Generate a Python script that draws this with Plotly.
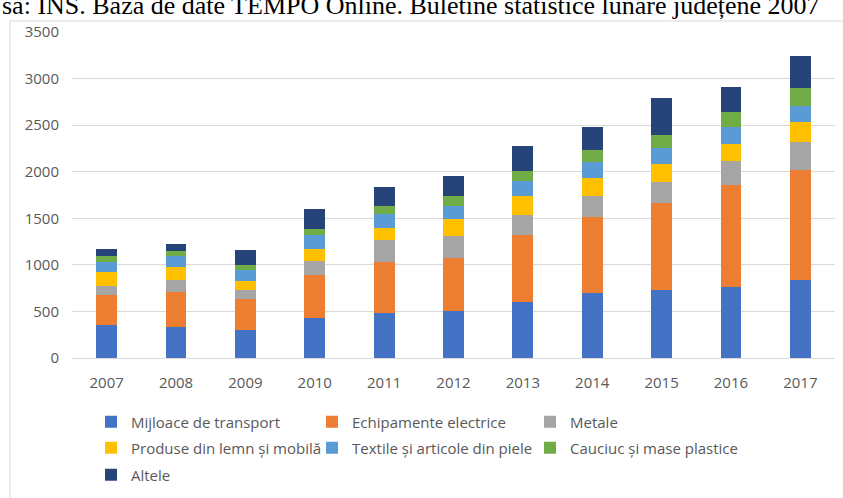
import plotly.graph_objects as go

years = ["2007", "2008", "2009", "2010", "2011", "2012", "2013", "2014", "2015", "2016", "2017"]

transport = [350, 333, 304, 429, 483, 508, 601, 697, 735, 760, 833]
electrice = [329, 375, 332, 457, 547, 571, 722, 812, 933, 1094, 1183]
metale = [97, 132, 97, 151, 232, 233, 215, 232, 226, 264, 308]
lemn = [142, 132, 96, 136, 133, 179, 196, 190, 186, 179, 208]
textile = [118, 118, 118, 143, 153, 146, 161, 172, 180, 188, 175]
cauciuc = [54, 54, 54, 71, 79, 97, 115, 125, 132, 155, 190]
altele = [83, 79, 154, 212, 208, 225, 271, 257, 398, 269, 350]

series_names = [
    "Mijloace de transport", "Echipamente electrice", "Metale",
    "Produse din lemn și mobilă", "Textile și articole din piele",
    "Cauciuc și mase plastice", "Altele",
]
series_values = [transport, electrice, metale, lemn, textile, cauciuc, altele]
colors = ["#4472C4", "#ED7D31", "#A5A5A5", "#FFC000", "#5B9BD5", "#70AD47", "#264478"]

# layout geometry (pixels)
W, H = 843, 498
ML, MR, MT, MB = 72, 8, 32, 140
PW = W - ML - MR
PH = H - MT - MB

def px_x(p):
    return (p - ML) / PW

def px_y(p):
    return (H - MB - p) / PH

# legend placement: (text-left px, row-center px)
leg_pos = [(131, 422), (352, 422), (570, 422),
           (131, 448), (352, 448), (570, 448),
           (131, 475)]

fig = go.Figure()
for i, (name, vals, col) in enumerate(zip(series_names, series_values, colors)):
    lg = "legend" if i == 0 else f"legend{i+1}"
    fig.add_trace(go.Bar(x=years, y=vals, name=name, marker_color=col,
                         marker_line_width=0, legend=lg))

font_txt = dict(family="Open Sans", size=15, color="#595959")
layout_legends = {}
for i, (tx, ty) in enumerate(leg_pos):
    key = "legend" if i == 0 else f"legend{i+1}"
    layout_legends[key] = dict(
        x=px_x(tx - 40), y=px_y(ty), xanchor="left", yanchor="middle",
        font=font_txt, bgcolor="rgba(0,0,0,0)", borderwidth=0,
        itemwidth=30, itemclick=False,
    )

fig.update_layout(
    width=W, height=H,
    margin=dict(l=ML, r=MR, t=MT, b=MB, autoexpand=False),
    barmode="stack", bargap=0.70,
    plot_bgcolor="white", paper_bgcolor="white",
    font=font_txt,
    showlegend=True,
    xaxis=dict(type="category", showgrid=False, showline=True, linecolor="#D9D9D9",
               linewidth=1, ticks="", tickfont=dict(family="Open Sans", size=15, color="#595959"),
               ticklabelstandoff=11, fixedrange=True),
    yaxis=dict(range=[0, 3500], dtick=500, showgrid=True, gridcolor="#D9D9D9", gridwidth=1,
               zeroline=False, showline=False, ticks="",
               tickfont=dict(family="Open Sans", size=15, color="#595959"),
               ticklabelstandoff=12, fixedrange=True),
    **layout_legends,
)

# outer chart frame
fig.add_shape(type="rect", xref="paper", yref="paper",
              x0=px_x(10), y0=px_y(21), x1=px_x(900), y1=px_y(600),
              line=dict(color="#D9D9D9", width=1), fillcolor="rgba(0,0,0,0)", layer="below")

# source line from the document above the chart
fig.add_annotation(xref="paper", yref="paper", x=px_x(0), y=px_y(22),
                   xanchor="left", yanchor="bottom", showarrow=False,
                   text="sa: INS. Baza de date TEMPO Online. Buletine statistice lunare județene 2007",
                   font=dict(family="Liberation Serif", size=26, color="#000000"))

fig.write_html("out.html", config={"displayModeBar": False},
               post_script="document.body.style.margin='0';document.body.style.overflow='hidden';")
